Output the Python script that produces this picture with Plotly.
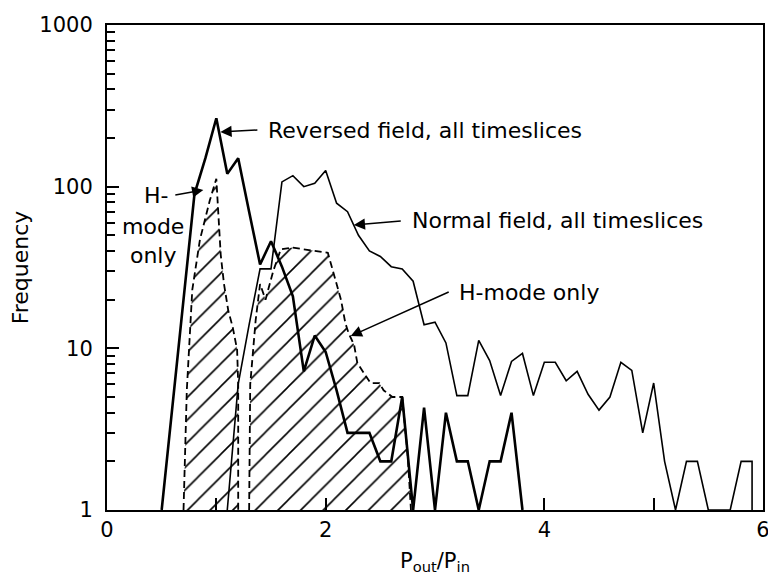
import plotly.graph_objects as go

# Reversed field, all timeslices (thick solid)
rev_x = [0.5, 0.6, 0.7, 0.8, 0.9, 1.0, 1.1, 1.2, 1.3, 1.4, 1.5, 1.6, 1.7, 1.8, 1.9, 2.0, 2.1,
         2.2, 2.3, 2.4, 2.5, 2.6, 2.7, 2.8, 2.9, 3.0, 3.1, 3.2, 3.3, 3.4, 3.5, 3.6, 3.7, 3.8]
rev_y = [1, 4.5, 20, 90, 150, 265, 120, 150, 70, 33, 46, 32, 21, 7.2, 12, 9.5, 5.5,
         3, 3, 3, 2, 2, 5, 1, 4.3, 1, 4, 2, 2, 1, 2, 2, 4, 1]

# Normal field, all timeslices (thin solid)
norm_x = [1.1, 1.2, 1.3, 1.4, 1.5, 1.6, 1.7, 1.8, 1.9, 2.0, 2.1, 2.2, 2.3, 2.4, 2.5, 2.6, 2.7,
          2.8, 2.9, 3.0, 3.1, 3.2, 3.3, 3.4, 3.5, 3.6, 3.7, 3.8, 3.9, 4.0, 4.1, 4.2, 4.3, 4.4,
          4.5, 4.6, 4.7, 4.8, 4.9, 5.0, 5.1, 5.2, 5.3, 5.4, 5.5, 5.6, 5.7, 5.8, 5.9, 5.9]
norm_y = [1, 6, 14, 31, 31, 107, 117, 100, 105, 126, 79, 70, 50, 40, 37, 32, 31,
          26, 14, 14.5, 10.8, 5.1, 5.1, 11.2, 8.4, 5.1, 8.3, 9.3, 5.1, 8.2, 8.2, 6.3, 7.2, 5.2,
          4.15, 5.0, 8.2, 7.3, 3.0, 6.1, 2.0, 1, 2, 2, 1, 1, 1, 2, 2, 1]

# Reversed field, H-mode only (dashed, hatched)
rh_x = [0.70, 0.73, 0.78, 0.85, 0.94, 1.00, 1.02, 1.04, 1.07, 1.11, 1.15, 1.19, 1.20, 1.20]
rh_y = [1, 5.5, 23, 47, 82, 112, 65, 38, 25, 17, 13.5, 9.8, 6, 1]

# Normal field, H-mode only (dashed, hatched)
nh_x = [1.30, 1.31, 1.36, 1.40, 1.45, 1.52, 1.59, 1.70, 1.80, 1.90, 2.02, 2.05, 2.09, 2.14,
        2.18, 2.21, 2.26, 2.29, 2.41, 2.49, 2.53, 2.61, 2.70, 2.75, 2.78]
nh_y = [1, 6, 15, 25, 20, 30, 41, 42, 41, 40, 39, 33, 26.5, 20,
        14.3, 12.4, 10.5, 8.1, 6.1, 6.1, 5.5, 5.0, 5.0, 2.2, 1]

x_ticks = [0, 2, 4, 6]
y_ticks = [1, 10, 100, 1000]
y_ticktext = ["1", "10", "100", "1000"]

FONT = "DejaVu Sans"

fig = go.Figure()

hatch = dict(shape="/", fgcolor="black", fgopacity=1, bgcolor="white", size=16, solidity=0.1)
for hx, hy in [(rh_x, rh_y), (nh_x, nh_y)]:
    fig.add_trace(go.Scatter(
        x=hx, y=hy, mode="lines", fill="toself", fillcolor="white",
        fillpattern=hatch,
        line=dict(color="black", width=1.8, dash="7px,4px"),
        hoverinfo="skip", showlegend=False))

fig.add_trace(go.Scatter(x=norm_x, y=norm_y, mode="lines",
                         line=dict(color="black", width=1.6), showlegend=False))
fig.add_trace(go.Scatter(x=rev_x, y=rev_y, mode="lines",
                         line=dict(color="black", width=2.6), showlegend=False))

axis_common = dict(showgrid=False, zeroline=False, showline=True, linecolor="black",
                   linewidth=2, mirror=True, ticks="inside", tickwidth=2, tickcolor="black",
                   automargin=False,
                   tickfont=dict(family=FONT, size=21, color="black"))

fig.update_xaxes(range=[0, 6], tickvals=x_ticks, ticklen=12,
                 minor=dict(ticks="inside", dtick=1, ticklen=12, tickwidth=2, tickcolor="black"),
                 title=dict(text="P<sub>out</sub>/P<sub>in</sub>",
                            font=dict(family=FONT, size=21, color="black"), standoff=12),
                 **axis_common)
fig.update_yaxes(type="log", range=[0, 3], tickvals=y_ticks, ticktext=y_ticktext, ticklen=12,
                 ticklabelstandoff=8,
                 minor=dict(ticks="inside", dtick="D1", ticklen=8, tickwidth=2, tickcolor="black"),
                 title=dict(text="Frequency", font=dict(family=FONT, size=22, color="black"),
                            standoff=14),
                 **axis_common)

tfont = dict(family=FONT, size=22, color="black")
arrow = dict(showarrow=True, arrowhead=2, arrowsize=1.5, arrowwidth=1.5, arrowcolor="black",
             xref="x", yref="y", yanchor="middle", font=tfont)
fig.add_annotation(x=1.037, y=2.338, ax=37, ay=-2, xanchor="left", borderpad=10,
                   text="Reversed field, all timeslices", **arrow)
fig.add_annotation(x=0.881, y=1.979, ax=-28, ay=5, xanchor="right", borderpad=6,
                   text="H-", **arrow)
fig.add_annotation(x=2.257, y=1.763, ax=47, ay=-4, xanchor="left", borderpad=10,
                   text="Normal field, all timeslices", **arrow)
fig.add_annotation(x=2.229, y=1.076, ax=98, ay=-44, xanchor="left", borderpad=9,
                   text="H-mode only", **arrow)

fig.add_annotation(x=0.0701, y=0.555, xanchor="center", yanchor="middle", align="center",
                   showarrow=False, xref="paper", yref="paper",
                   text="mode<br>only", font=tfont)

# the page body adds an 8px offset; size the figure so the plot lands where the reference has it
fig.update_layout(width=768, height=580, margin=dict(l=99, r=13, t=17, b=78),
                  plot_bgcolor="white", paper_bgcolor="white", showlegend=False)

fig.write_html("out.html")
